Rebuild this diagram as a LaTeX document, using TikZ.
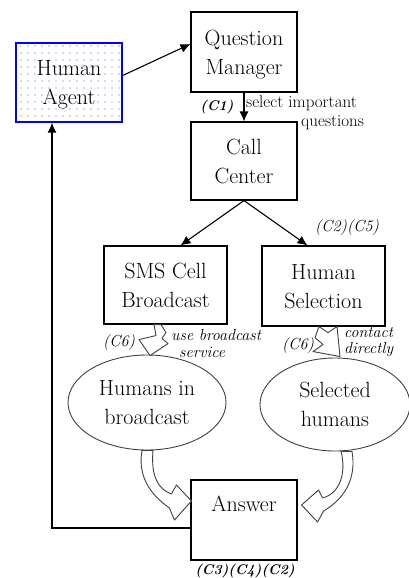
\documentclass[tikz,border=0pt]{standalone}
\usetikzlibrary{arrows.meta,shapes.geometric,patterns.meta}

\begin{document}
\begin{tikzpicture}[x=1pt,y=1pt,>=Latex,
  box/.style={draw,line width=1.1pt,minimum width=106pt,minimum height=80pt,align=center,font=\fontsize{22}{29}\selectfont,text depth=0pt,inner sep=0pt},
  blob/.style={ellipse,draw=black!75,line width=0.9pt,minimum width=158pt,minimum height=95pt,align=center,font=\fontsize{22}{29}\selectfont,text depth=0pt,inner sep=0pt},
  lbl/.style={font=\fontsize{16}{17}\selectfont\itshape,inner sep=0pt},
  lblbold/.style={font=\fontsize{14}{17}\selectfont\bfseries\itshape,inner sep=0pt},
  link/.style={-{Latex[length=10pt,width=9pt]},line width=1.1pt},
  fat/.style={draw=black!75,fill=white,line width=0.9pt,line join=round}]
\useasboundingbox (0,0) rectangle (409,-578);
% boxes
\node[box,draw=blue,line width=1.4pt,minimum height=79pt,pattern={Dots[distance=7pt,radius=0.6pt]},pattern color=blue!70] (agent) at (69,-82.5) {Human\\Agent};
\node[box] (qmgr) at (244,-52) {Question\\Manager};
\node[box,minimum height=78pt] (call) at (244,-161) {Call\\Center};
\node[box,minimum width=123pt,minimum height=78pt] (sms) at (165.5,-285) {SMS Cell\\Broadcast};
\node[box,minimum width=123pt] (hsel) at (323.5,-286) {Human\\Selection};
\node[blob] (bcast) at (147,-402.5) {Humans in\\broadcast};
\node[blob,minimum width=150pt,minimum height=93pt] (chosen) at (335,-404.5) {Selected\\humans};
\node[box,text depth=33pt] (answer) at (244,-520) {Answer};
% plain arrows
\draw[link] ([yshift=7pt]agent.east) -- ([yshift=8pt]qmgr.west);
\draw[link] (qmgr) -- (call);
\draw[link] (call.south) -- ([xshift=15pt]sms.north);
\draw[link] (call.south) -- ([xshift=-16pt]hsel.north);
\draw[link] ([yshift=-8pt]answer.west) -| ([xshift=-17pt]agent.south);
% hollow arrows
\draw[fat] ([xshift=-11.5pt]sms.south) -- ++(2,-11) -- ++(-17,-4) -- ++(11,-16) -- ++(18,12) -- ++(-6,5) -- ++(4,6) -- ++(-5,8) -- cycle;
\draw[fat] ([xshift=-4.5pt]hsel.south) -- ++(9,-6) -- ++(9,6) -- ++(3,-30) -- ++(-27,5) -- ++(10,7) -- ++(-8,7) -- cycle;
\draw[fat] ([xshift=-5pt]bcast.south) to[out=260,in=145] ([shift={(-21,12)}]answer.west) -- ([shift={(-16,0)}]answer.west) -- ([shift={(1,19)}]answer.west) -- ([shift={(-14,35)}]answer.west) -- ([shift={(-19,26)}]answer.west) to[out=160,in=265] ([xshift=6pt]bcast.south) -- cycle;
\draw[fat] ([xshift=17pt]chosen.south) to[out=280,in=30] ([shift={(26,9)}]answer.east) -- ([shift={(20,-2)}]answer.east) -- ([shift={(4,15)}]answer.east) -- ([shift={(21,30)}]answer.east) -- ([shift={(25,22)}]answer.east) to[out=15,in=285] ([xshift=6pt]chosen.south) -- cycle;
% labels
\node[lblbold] (c1) at (217,-107) {(C1)};
\node[anchor=west,align=left,inner sep=0pt,font=\fontsize{17}{19}\selectfont] (select) at (246,-113) {select important\\\hspace*{55pt}questions};
\node[lbl] (c2c5) at (347,-228) {(C2)(C5)};
\node[lbl] (c6a) at (119,-343) {(C6)};
\node[lbl,anchor=west,align=left] (usebc) at (171,-344) {use broadcast\\\hspace*{8pt}service};
\node[lbl] (c6b) at (298,-346) {(C6)};
\node[lbl,anchor=west,align=left,font=\fontsize{16}{16}\selectfont\itshape] (direct) at (344,-342) {contact\\directly};
\node[lblbold] (c3c4c2) at (245,-571) {(C3)(C4)(C2)};
\end{tikzpicture}
\end{document}
